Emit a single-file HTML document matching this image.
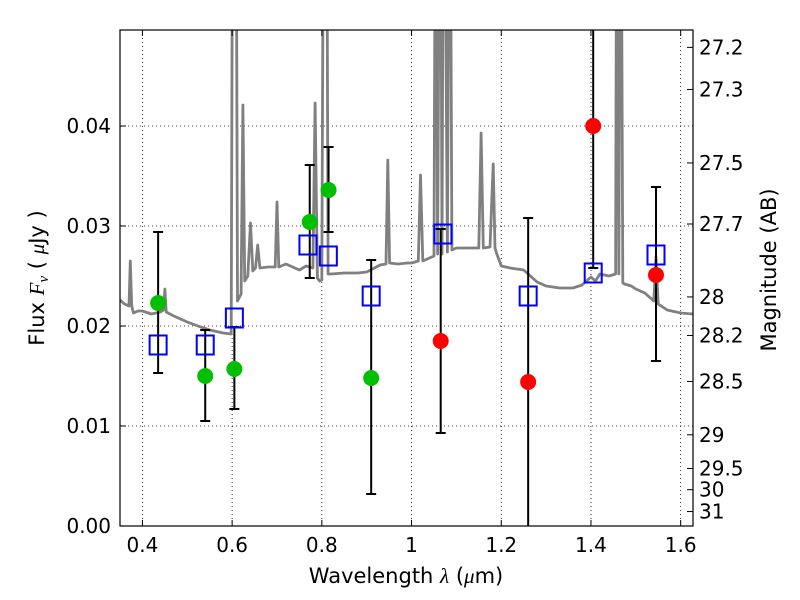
<!DOCTYPE html>
<html><head><meta charset="utf-8"><style>
body{margin:0;background:#fff}
svg{display:block;font-family:"DejaVu Sans","Liberation Sans",sans-serif}
</style></head><body>
<svg id="chart" width="800" height="600" viewBox="0 0 800 600">
<defs><clipPath id="clip"><rect x="120" y="30" width="573" height="496"/></clipPath></defs>
<rect x="0" y="0" width="800" height="600" fill="#fff"/>
<g id="grid"></g>
<g id="plot" clip-path="url(#clip)"></g>
<rect x="120" y="30" width="573" height="496" fill="none" stroke="#000" stroke-width="1.2"/>
<g id="axes"></g>
<text x="406" y="583" text-anchor="middle" font-size="21">Wavelength  <tspan font-style="italic" font-family="Liberation Serif, serif">λ</tspan> (<tspan font-style="italic" font-family="Liberation Serif, serif">μ</tspan>m)</text>
<text transform="translate(44,278) rotate(-90)" text-anchor="middle" font-size="21">Flux  <tspan font-style="italic" font-family="Liberation Serif, serif">F</tspan><tspan font-style="italic" font-family="Liberation Serif, serif" font-size="15" dy="4">ν</tspan><tspan dy="-4">  (  </tspan><tspan font-style="italic" font-family="Liberation Serif, serif">μ</tspan>Jy )</text>
<text transform="translate(776,270) rotate(-90)" text-anchor="middle" font-size="21">Magnitude (AB)</text>
</svg>
<script>
const xTicks=[0.4,0.6,0.8,1.0,1.2,1.4,1.6];
const xTickLabels=["0.4","0.6","0.8","1","1.2","1.4","1.6"];
const yTicks=[0,0.01,0.02,0.03,0.04];
const yTickLabels=["0.00","0.01","0.02","0.03","0.04"];
const magTicks=[27.2,27.3,27.5,27.7,28,28.2,28.5,29,29.5,30,31];
const magLabels=["27.2","27.3","27.5","27.7","28","28.2","28.5","29","29.5","30","31"];
const specWl=[0.35,0.36,0.37,0.373,0.376,0.38,0.39,0.40,0.42,0.44,0.447,0.45,0.453,0.47,0.50,0.53,0.55,0.58,0.598,0.602,0.604,0.606,0.608,0.612,0.62,0.624,0.628,0.635,0.641,0.646,0.652,0.657,0.662,0.68,0.696,0.700,0.704,0.72,0.75,0.765,0.78,0.785,0.79,0.795,0.800,0.805,0.810,0.814,0.82,0.85,0.88,0.9,0.93,0.943,0.947,0.951,0.97,0.99,1.0,1.015,1.02,1.025,1.04,1.05,1.054,1.058,1.064,1.068,1.072,1.08,1.085,1.09,1.1,1.13,1.15,1.155,1.16,1.175,1.182,1.186,1.19,1.2,1.22,1.25,1.28,1.3,1.33,1.36,1.38,1.4,1.41,1.42,1.44,1.455,1.458,1.462,1.466,1.471,1.475,1.49,1.5,1.52,1.54,1.545,1.55,1.57,1.6,1.627];
const specFlux=[0.0226,0.0222,0.0220,0.0265,0.0220,0.0213,0.0215,0.0215,0.0212,0.0214,0.0216,0.0237,0.0214,0.0210,0.0204,0.0199,0.0196,0.0193,0.0192,0.08,0.08,0.08,0.08,0.0225,0.0232,0.0421,0.0245,0.0250,0.0303,0.0255,0.0258,0.0281,0.0258,0.0259,0.0259,0.0324,0.0259,0.0262,0.0256,0.0260,0.0258,0.0423,0.0248,0.0245,0.0246,0.08,0.08,0.0252,0.0252,0.0253,0.0253,0.0254,0.0261,0.0262,0.0366,0.0263,0.0262,0.0263,0.0263,0.0265,0.0351,0.0265,0.0268,0.0270,0.08,0.0272,0.08,0.0272,0.08,0.0274,0.08,0.0276,0.0278,0.0278,0.0278,0.0393,0.0278,0.0279,0.0362,0.0278,0.0272,0.0260,0.0258,0.0256,0.0244,0.0240,0.0238,0.0238,0.0241,0.0249,0.0245,0.0252,0.0250,0.0252,0.08,0.0252,0.08,0.0243,0.0242,0.0240,0.0237,0.0233,0.0225,0.0269,0.0222,0.0216,0.0213,0.0212];
const greenWl=[0.435,0.54,0.605,0.773,0.815,0.91];
const greenFlux=[0.0223,0.0150,0.0157,0.0304,0.0336,0.0148];
const greenLo=[0.0153,0.0105,0.0117,0.0248,0.0294,0.0032];
const greenHi=[0.0294,0.0196,0.0199,0.0361,0.0379,0.0266];
const redWl=[1.065,1.26,1.405,1.545];
const redFlux=[0.0185,0.0144,0.0400,0.0251];
const redLo=[0.0093,-0.001,0.0258,0.0165];
const redHi=[0.0297,0.0308,0.060,0.0339];
const modelWl=[0.435,0.54,0.605,0.769,0.8145,0.91,1.07,1.26,1.405,1.545];
const modelFlux=[0.0181,0.0181,0.0208,0.0281,0.0270,0.0230,0.0292,0.0230,0.0253,0.0271];

const X0=0.35,X1=1.6275,Y1=0.0496;
const sx=v=>120+(v-X0)/(X1-X0)*573;
const sy=v=>526-v/Y1*496;
const NS="http://www.w3.org/2000/svg";
function mk(tag,attrs,parent){const e=document.createElementNS(NS,tag);for(const k in attrs)e.setAttribute(k,attrs[k]);parent.appendChild(e);return e;}
const grid=document.getElementById('grid'),plot=document.getElementById('plot'),axes=document.getElementById('axes');

xTicks.forEach((t,i)=>{
 const x=sx(t);
 let g=mk('line',{x1:x,x2:x,y1:30,y2:526,stroke:'#000','stroke-width':0.8,'stroke-dasharray':'1,3'},grid);
 
 let a=mk('line',{x1:x,x2:x,y1:526,y2:520,stroke:'#000','stroke-width':1},axes);
 
 let b=mk('line',{x1:x,x2:x,y1:30,y2:36,stroke:'#000','stroke-width':1},axes);
 
 let tx=mk('text',{x:x,y:552,'text-anchor':'middle','font-size':20},axes);tx.textContent=xTickLabels[i];
 
});
yTicks.forEach((t,i)=>{
 const y=sy(t);
 if(t>0){let g=mk('line',{x1:120,x2:693,y1:y,y2:y,stroke:'#000','stroke-width':0.8,'stroke-dasharray':'1,3'},grid);
 }
 let a=mk('line',{x1:120,x2:126,y1:y,y2:y,stroke:'#000','stroke-width':1},axes);
 
 let tx=mk('text',{x:111,y:y+7,'text-anchor':'end','font-size':20},axes);tx.textContent=yTickLabels[i];
 
});
magTicks.forEach((m,i)=>{
 const f=Math.pow(10,(23.9-m)/2.5);const y=sy(f);
 let a=mk('line',{x1:687,x2:693,y1:y,y2:y,stroke:'#000','stroke-width':1},axes);
 
 let tx=mk('text',{x:699,y:y+7,'text-anchor':'start','font-size':20},axes);tx.textContent=magLabels[i];
 
});
const pts=specWl.map((w,i)=>sx(w).toFixed(1)+','+sy(specFlux[i]).toFixed(1)).join(' ');
const sp=mk('polyline',{points:pts,fill:'none',stroke:'#808080','stroke-width':2.8,'stroke-linejoin':'round'},plot);


function errbar(w,lo,hi,name){
 const x=sx(w);
 let l=mk('line',{x1:x,x2:x,y1:sy(lo),y2:sy(hi),stroke:'#000','stroke-width':2},plot);
 
 [lo,hi].forEach(v=>{let c=mk('line',{x1:x-5,x2:x+5,y1:sy(v),y2:sy(v),stroke:'#000','stroke-width':2},plot);
 });
}
greenWl.forEach((w,i)=>errbar(w,greenLo[i],greenHi[i],'green-error-bar'));
redWl.forEach((w,i)=>errbar(w,redLo[i],redHi[i],'red-error-bar'));
modelWl.forEach((w,i)=>{
 let r=mk('rect',{x:sx(w)-8.5,y:sy(modelFlux[i])-9.5,width:17,height:19,fill:'none',stroke:'#0000ff','stroke-width':2},plot);
 
});
greenWl.forEach((w,i)=>{
 let c=mk('circle',{cx:sx(w),cy:sy(greenFlux[i]),r:8,fill:'#00bf00'},plot);
 
});
redWl.forEach((w,i)=>{
 let c=mk('circle',{cx:sx(w),cy:sy(redFlux[i]),r:8,fill:'#ff0000'},plot);
 
});
</script>
</body></html>
